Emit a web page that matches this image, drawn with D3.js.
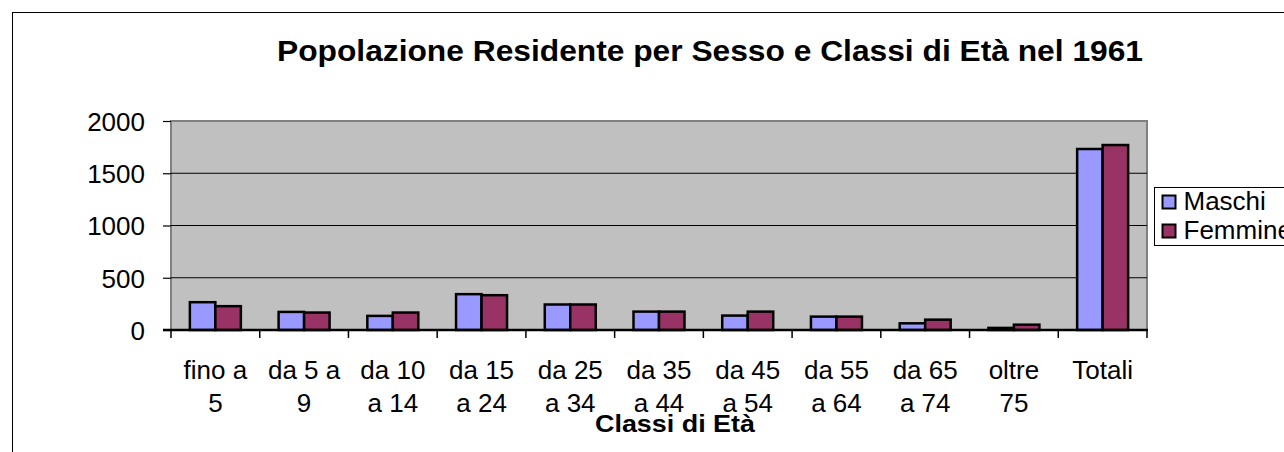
<!DOCTYPE html>
<html>
<head>
<meta charset="utf-8" />
<title>Popolazione Residente 1961</title>
<style>
body { margin: 0; background: #fff; }
text { font-family: "Liberation Sans", Arial, sans-serif; fill: #000; }
</style>
</head>
<body>
<div id="graph"></div>
<script src="https://d3js.org/d3.v7.min.js"></script>
<script>
var categories = [["fino a", "5"], ["da 5 a", "9"], ["da 10", "a 14"], ["da 15", "a 24"], ["da 25", "a 34"],
                  ["da 35", "a 44"], ["da 45", "a 54"], ["da 55", "a 64"], ["da 65", "a 74"], ["oltre", "75"], ["Totali"]];
var maschi  = [266, 173, 135, 343, 244, 176, 138, 128, 64, 20, 1732];
var femmine = [228, 167, 167, 333, 244, 176, 176, 128, 99, 51, 1770];
var seriesNames = ["Maschi", "Femmine"];
var seriesColors = ["#9999ff", "#993366"];
var yTicks = [0, 500, 1000, 1500, 2000];

!(function(){
    "use strict"
    var width = 1284, height = 452;
    var margin = {top: 121, left: 171, bottom: 122, right: 137};
    var chartWidth = width - margin.left - margin.right;
    var chartHeight = height - margin.top - margin.bottom;

    var svg = d3.select("#graph").append("svg")
        .attr("width", width).attr("height", height);

    // outer chart border, runs off the right and bottom
    svg.append("rect")
        .attr("x", 12.5).attr("y", 12.5)
        .attr("width", 1400).attr("height", 600)
        .attr("fill", "none").attr("stroke", "#000").attr("stroke-width", 1);

    svg.append("text")
        .attr("x", 277).attr("y", 61)
        .attr("textLength", 866).attr("lengthAdjust", "spacingAndGlyphs")
        .style("font-size", "29px").style("font-weight", "bold")
        .text("Popolazione Residente per Sesso e Classi di Età nel 1961");

    var chart = svg.append("g").attr("transform", "translate(" + [margin.left, margin.top] + ")");

    var xScale = d3.scaleBand().domain(d3.range(categories.length)).range([0, chartWidth]);
    var xInner = d3.scaleBand().domain(seriesNames)
        .range([0, xScale.bandwidth()]).paddingOuter(0.74).paddingInner(0);
    var yScale = d3.scaleLinear().domain([0, 2000]).range([chartHeight, 0]);

    chart.append("rect")
        .attr("width", chartWidth).attr("height", chartHeight)
        .attr("fill", "#c0c0c0").attr("stroke", "#808080").attr("stroke-width", 2);

    // gridlines + y axis
    var yAxis = d3.axisLeft(yScale).tickValues(yTicks).tickFormat(d3.format("d"))
        .tickSizeInner(8).tickSizeOuter(0).tickPadding(18);
    var ya = chart.append("g").attr("class", "axis y").call(yAxis);
    ya.select(".domain").remove();
    ya.selectAll("line").attr("stroke", "#000").attr("stroke-width", 1.2);
    ya.selectAll("text").style("font-size", "26px").attr("dy", "0.36em");

    chart.selectAll(".grid").data(yTicks.slice(1, 4)).enter().append("line")
        .attr("class", "grid")
        .attr("x1", 0).attr("x2", chartWidth)
        .attr("y1", function(d){ return yScale(d) }).attr("y2", function(d){ return yScale(d) })
        .attr("stroke", "#000").attr("stroke-width", 1.2);

    // bars
    var rows = categories.map(function(c, i){ return [maschi[i], femmine[i]] });
    var groups = chart.selectAll(".grp").data(rows).enter().append("g")
        .attr("class", "grp")
        .attr("transform", function(d, i){ return "translate(" + xScale(i) + ",0)" });
    groups.selectAll("rect").data(function(d){ return d }).enter().append("rect")
        .attr("x", function(d, j){ return xInner(seriesNames[j]) })
        .attr("width", xInner.bandwidth())
        .attr("y", function(d){ return yScale(d) })
        .attr("height", function(d){ return chartHeight - yScale(d) })
        .attr("fill", function(d, j){ return seriesColors[j] })
        .attr("stroke", "#000").attr("stroke-width", 2.5);

    // x axis
    var xa = chart.append("g").attr("transform", "translate(0," + chartHeight + ")");
    xa.append("line").attr("x1", -8).attr("x2", chartWidth + 1)
        .attr("stroke", "#000").attr("stroke-width", 2.5);
    xa.selectAll(".tk").data(d3.range(categories.length + 1)).enter().append("line")
        .attr("x1", function(d){ return d * xScale.step() }).attr("x2", function(d){ return d * xScale.step() })
        .attr("y1", 0).attr("y2", 8)
        .attr("stroke", "#000").attr("stroke-width", 1.5);
    var lbl = xa.selectAll(".lbl").data(categories).enter().append("text")
        .attr("text-anchor", "middle")
        .style("font-size", "26px")
        .attr("transform", function(d, i){ return "translate(" + (xScale(i) + xScale.bandwidth() / 2) + ",49)" });
    lbl.selectAll("tspan").data(function(d){ return d }).enter().append("tspan")
        .attr("x", 0).attr("y", function(d, k){ return k * 33 })
        .text(function(d){ return d });

    svg.append("text")
        .attr("x", 675).attr("y", 432).attr("text-anchor", "middle")
        .attr("textLength", 160).attr("lengthAdjust", "spacingAndGlyphs")
        .style("font-size", "24px").style("font-weight", "bold")
        .text("Classi di Età");

    // legend
    var legend = svg.append("g").attr("transform", "translate(1154.5,187.5)");
    legend.append("rect").attr("width", 200).attr("height", 58)
        .attr("fill", "#fff").attr("stroke", "#000").attr("stroke-width", 1);
    var items = legend.selectAll(".item").data(seriesNames).enter().append("g")
        .attr("transform", function(d, i){ return "translate(8," + (8 + i * 29) + ")" });
    items.append("rect").attr("width", 13).attr("height", 13)
        .attr("fill", function(d, i){ return seriesColors[i] })
        .attr("stroke", "#000").attr("stroke-width", 2);
    items.append("text").attr("x", 21).attr("y", 14)
        .style("font-size", "26px")
        .text(function(d){ return d });
}());
</script>
</body>
</html>
